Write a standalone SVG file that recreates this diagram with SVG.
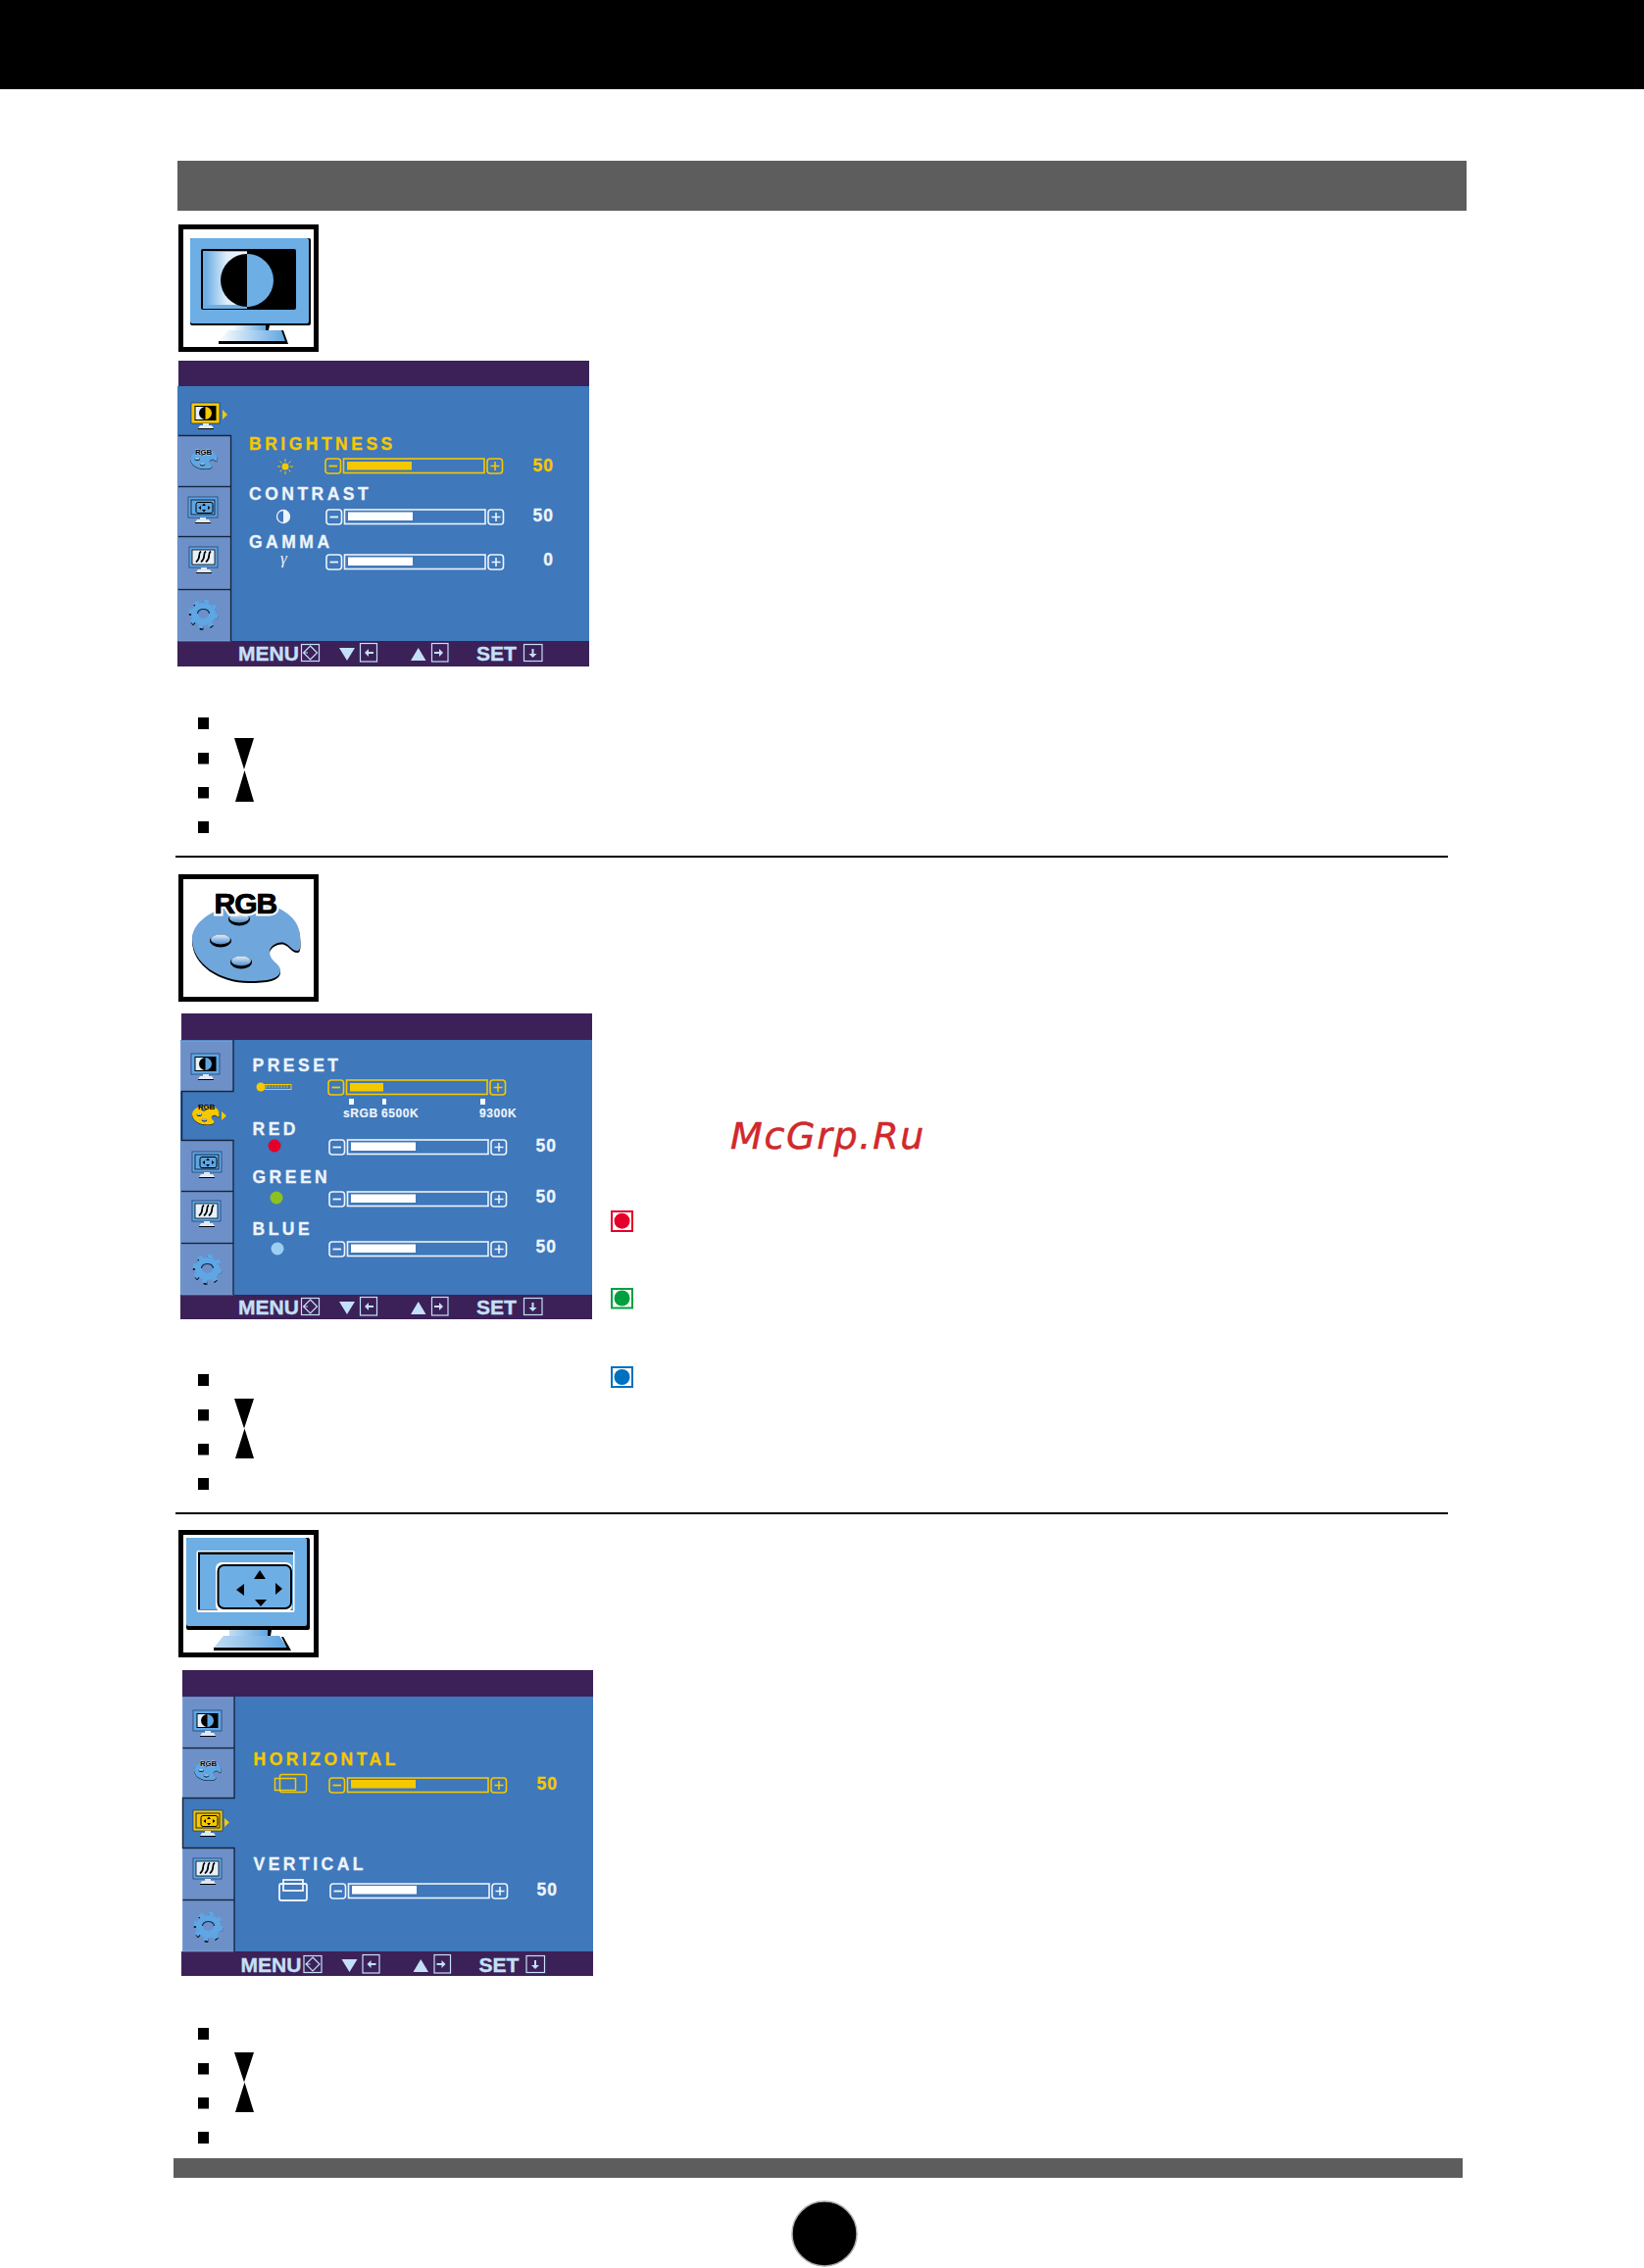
<svg xmlns="http://www.w3.org/2000/svg" width="1677" height="2314" viewBox="0 0 1677 2314">
<style>
text{font-family:"Liberation Sans",Arial,sans-serif;font-weight:700}
.lab{font-size:17.5px;letter-spacing:3.5px;stroke:currentColor;stroke-width:.3px}
.val{font-size:17.5px;letter-spacing:1px;text-anchor:end;stroke:currentColor;stroke-width:.3px}
.w{fill:#eef4fb;color:#eef4fb}
.y{fill:#f5c800;color:#f5c800}
.ft{font-size:21px;fill:#c4e0f8;stroke:#c4e0f8;stroke-width:.35px}
.sm{font-size:12px;letter-spacing:.6px;fill:#eef4fb;stroke:#eef4fb;stroke-width:.15px}
.purple{fill:#3c2158}
.body{fill:#3f78bb}
.cell{fill:#6d90c9;stroke:#8fb0dc;stroke-width:.6}
.sep{stroke:#14243f;stroke-width:1.4;fill:none}
.box{fill:#fff;stroke:#000;stroke-width:5}
.ico{color:#5fa6e4}
.sel{color:#f5c800}
.mrk{fill:#000}
.pt{font-size:8px;fill:#000;stroke:#fff;stroke-width:.5;paint-order:stroke;letter-spacing:-.3px}
</style>
<defs>
<linearGradient id="gScreen" x1="0" y1="0" x2="1" y2="0"><stop offset="0" stop-color="#6daee4"/><stop offset=".5" stop-color="#dcedfb"/><stop offset="1" stop-color="#f4f9fe"/></linearGradient>
<linearGradient id="gBase" x1="0" y1="0" x2="1" y2="0"><stop offset="0" stop-color="#fff"/><stop offset="1" stop-color="#5ba3e0"/></linearGradient>
<linearGradient id="gBase3" x1="0" y1="0" x2="1" y2="0"><stop offset="0" stop-color="#c3dcf4"/><stop offset="1" stop-color="#5ba3e0"/></linearGradient>
<linearGradient id="gHole" x1="0" y1="0" x2="0" y2="1"><stop offset="0" stop-color="#e4f0fb"/><stop offset="1" stop-color="#4f8ccb"/></linearGradient>
<g id="slider" fill="none" stroke="currentColor" stroke-width="1.600">
<rect x="1" y="1" width="15.500" height="15" rx="3"/><path d="M4.500 8.500h8.500" stroke-width="1.800"/>
<rect x="19.500" y="1" width="143.500" height="14.500"/>
<rect x="166" y="1" width="15.500" height="15" rx="3"/><path d="M169.500 8.500h9M174 4v9"/>
</g>
<g id="mC"><rect x="0" y="0" width="29" height="21" fill="currentColor" stroke="#1b3560" stroke-width=".7"/><rect x="3.500" y="3" width="22" height="15" fill="#000"/><rect x="4.500" y="4" width="9" height="13" fill="#e6f1fb"/><path d="M14.500 4a6.500 6.500 0 0 0 0 13z" fill="#000"/><path d="M14.500 4a6.500 6.500 0 0 1 0 13z" fill="currentColor"/><rect x="12" y="21" width="6" height="2.500" fill="#dfe9f4"/><path d="M7 26l2-3h12l2 3z" fill="#dfe9f4"/><path d="M7 26.500h16" stroke="#000"/></g>
<g id="mP"><rect x="0" y="0" width="30" height="21" fill="currentColor" stroke="#1b3560" stroke-width=".7"/><rect x="3" y="3" width="24" height="15" fill="currentColor" stroke="#14243f" stroke-width="1"/><rect x="8" y="5.500" width="17" height="11" rx="2" fill="currentColor" stroke="#000" stroke-width="1"/><path d="M16 6.500l2 2.500h-4zM16 15.500l2-2.500h-4zM10.500 11l2.500-2v4zM22.500 11l-2.500-2v4z" fill="#000"/><rect x="12" y="21" width="6" height="2.500" fill="#dfe9f4"/><path d="M7 26l2-3h12l2 3z" fill="#dfe9f4"/><path d="M7 26.500h16" stroke="#000"/></g>
<g id="mH"><rect x="0" y="0" width="29" height="21" fill="currentColor" stroke="#1b3560" stroke-width=".7"/><rect x="3" y="3" width="23" height="15" fill="#e6f1fb" stroke="#000" stroke-width=".8"/><path d="M12 4.500c-4 3 1 5-5 11M17 4.500c-4 3 1 5-5 11M22 4.500c-4 3 1 5-5 11" fill="none" stroke="#000" stroke-width="1.700"/><rect x="12" y="21" width="6" height="2.500" fill="#dfe9f4"/><path d="M7 26l2-3h12l2 3z" fill="#dfe9f4"/><path d="M7 26.500h16" stroke="#000"/></g>
<g id="gear" fill="none"><circle cx="15.500" cy="15" r="13" stroke="#000" stroke-width="3.500" stroke-dasharray="3.500 6.700"/><circle cx="15.500" cy="13.500" r="13" stroke="currentColor" stroke-width="4" stroke-dasharray="5 5.200"/><ellipse cx="15.500" cy="13.500" rx="9" ry="8" stroke="currentColor" stroke-width="7"/><path d="M9.500 13a6 4.500 0 0 1 12 0" stroke="#14243f" stroke-width="1.200"/></g>
<path id="palP" d="M36 10C16 16 0 28 0 43C0 68 28 86 58 86C76 86 90 84 90 75C90 68 79 66 79 56C79 50 88 45 94 47C100 49 102 56 108 55C112 54 110 42 110 38C108 22 95 15 85 10Z"/>
<g id="pal"><use href="#palP" fill="#000" transform="translate(0 2)"/><use href="#palP" fill="currentColor"/><g fill="#000"><ellipse cx="29" cy="45" rx="11" ry="6.500"/><ellipse cx="50" cy="67" rx="11" ry="6.500"/><ellipse cx="48" cy="23" rx="11" ry="6.500"/></g><g fill="url(#gHole)"><ellipse cx="29" cy="43.500" rx="10" ry="5"/><ellipse cx="50" cy="65.500" rx="10" ry="5"/><ellipse cx="48" cy="21.500" rx="10" ry="5"/></g></g>
<g id="footmarks"><g fill="none" stroke="#c4e0f8" stroke-width="1.200"><rect x="307.500" y="657.500" width="18" height="17"/><path d="M316.500 659l7 7-7 7-7-7zM314 666h-5"/><rect x="367.500" y="656.500" width="17" height="18.500"/><rect x="440.500" y="656.500" width="16.500" height="18.500"/><rect x="534.500" y="657.500" width="18.500" height="17"/></g><g fill="#c4e0f8"><path d="M346 661h16l-8 13zM419 674h15.500l-7.750-13z"/><path d="M372 666l4-4v3h5v2h-5v3zM452 666l-4-4v3h-5v2h5v3zM543.500 671l-4-4h3v-5h2v5h3z"/></g></g>
<g id="bullets"><rect class="mrk" x="202" y="732" width="11" height="12"/><rect class="mrk" x="202" y="768" width="11" height="11.500"/><rect class="mrk" x="202" y="803" width="11" height="11.500"/><rect class="mrk" x="202" y="838" width="11" height="12"/></g>
</defs>
<rect width="1677" height="2314" fill="#fff"/>

<g id="page-frame">
<rect x="0" y="0" width="1677" height="91" fill="#000"/>
<rect x="181" y="164" width="1315" height="51" fill="#5d5d5d"/>
<rect x="177" y="2202" width="1315" height="20" fill="#5d5d5d"/>
<circle cx="841" cy="2279" r="33" fill="#000" stroke="#aaa" stroke-width="1.500"/>
<rect x="179" y="873" width="1298" height="2" fill="#000"/>
<rect x="179" y="1543" width="1298" height="2" fill="#000"/>
</g>

<g id="icon-brightness">
<rect class="box" x="184.500" y="231.500" width="138" height="125"/>
<rect x="194" y="243" width="123" height="89" rx="2" fill="#000"/>
<rect x="194" y="243" width="121" height="87" rx="2" fill="#6daee4"/>
<rect x="205" y="254" width="97" height="62" rx="2" fill="#000"/>
<rect x="207" y="256" width="45" height="59" fill="#6daee4"/>
<rect x="210" y="257" width="42" height="54" fill="url(#gScreen)"/>
<path d="M252 259a27 27 0 0 0 0 54z" fill="#000"/><path d="M252 259a27 27 0 0 1 0 54z" fill="#6daee4"/>
<path d="M237 332h35v5h-35z" fill="url(#gBase)"/><path d="M271 332h4l-1 5h-3z" fill="#000"/>
<path d="M223 348l10-11h55l5 11z" fill="url(#gBase)"/><path d="M223 348h70l1 3h-71zM287 337h2l5 14h-2z" fill="#000"/>
</g>

<g id="osd-brightness">
<rect class="purple" x="182" y="368" width="419" height="26"/>
<rect class="body" x="181" y="394" width="420" height="260"/>
<rect class="purple" x="181" y="654" width="420" height="26"/>
<rect class="cell" x="182" y="445" width="53" height="51"/><rect class="cell" x="182" y="497" width="53" height="50"/><rect class="cell" x="182" y="548" width="53" height="52.500"/><rect class="cell" x="182" y="602" width="53" height="52"/>
<path class="sep" d="M182 444.500h53.500V654M182 496.500h53M182 547.500h53M182 601.500h53"/>
<use href="#mC" class="sel" x="195" y="411"/><path d="M227 418l5 5-5 5z" fill="#f5c800"/>
<use href="#pal" class="ico" transform="translate(194 457) scale(.25)"/><text class="pt" x="199" y="464">RGB</text>
<use href="#mP" class="ico" x="192" y="507"/><use href="#mH" class="ico" x="193" y="558"/><use href="#gear" class="ico" x="192" y="613"/>
<text class="lab y" x="254" y="459">BRIGHTNESS</text><text class="lab w" x="254" y="510">CONTRAST</text><text class="lab w" x="254" y="559">GAMMA</text>
<g stroke="#f5c800" stroke-width="1"><path d="M291 468v3M291 481v3M283 476h3M296 476h3M285.500 470.500l2 2M294.500 479.500l2 2M296.500 470.500l-2 2M287.500 479.500l-2 2"/></g><circle cx="291" cy="476" r="3.500" fill="#f5c800"/>
<circle cx="289" cy="527" r="6.500" fill="#3f78bb" stroke="#eef4fb" stroke-width="1.300"/><path d="M289 520.500a6.500 6.500 0 0 1 0 13z" fill="#eef4fb"/>
<text x="286" y="575" style="font-family:'Liberation Serif',serif;font-style:italic;font-weight:400;font-size:17px" fill="#eef4fb">γ</text>
<use href="#slider" class="y" x="331" y="467"/><rect x="354" y="471" width="66" height="8.500" fill="#f5c800"/>
<use href="#slider" class="w" x="332" y="519"/><rect x="355" y="522.500" width="66" height="8.500" fill="#fff"/>
<use href="#slider" class="w" x="332" y="565"/><rect x="355" y="568.500" width="66" height="8.500" fill="#fff"/>
<text class="val y" x="565" y="481">50</text><text class="val w" x="565" y="532">50</text><text class="val w" x="565" y="577">0</text>
<use href="#footmarks"/>
<text class="ft" x="243" y="674">MENU</text><text class="ft" x="486" y="674">SET</text>
</g>

<g id="steps-1"><use href="#bullets"/><path class="mrk" d="M239 753h20l-10 32zM240 818h19l-9.500-32z"/></g>

<g id="icon-rgb">
<rect class="box" x="184.500" y="894.500" width="138" height="125"/>
<use href="#pal" style="color:#6fa6dc" transform="translate(196 915)"/>
<text x="218.500" y="932" style="font-size:30px;letter-spacing:-1px;stroke:#fff;stroke-width:5px;paint-order:stroke" fill="#000">RGB</text>
<text x="218.500" y="932" style="font-size:30px;letter-spacing:-1px;stroke:#000;stroke-width:.7px" fill="#000">RGB</text>
</g>

<g id="osd-rgb">
<rect class="purple" x="185" y="1034" width="419" height="27"/>
<rect class="body" x="184" y="1061" width="420" height="260"/>
<rect class="purple" x="184" y="1321" width="420" height="25"/>
<rect class="cell" x="184.500" y="1062" width="53" height="51"/><rect class="cell" x="185" y="1164" width="53" height="51"/><rect class="cell" x="185" y="1216" width="53" height="52"/><rect class="cell" x="185" y="1269" width="53" height="52"/>
<path class="sep" d="M238 1061V1113.500H185.500V1163.500H238V1321M185 1215.500h53M185 1268.500h53"/>
<use href="#mC" class="ico" x="195" y="1075"/>
<use href="#pal" class="sel" transform="translate(196 1126) scale(.25)"/><text class="pt" x="202" y="1132" style="stroke:none">RGB</text><path d="M226 1134l5 4.500-5 4.500z" fill="#f5c800"/>
<use href="#mP" class="ico" x="196" y="1175"/><use href="#mH" class="ico" x="196" y="1225"/><use href="#gear" class="ico" x="196" y="1281"/>
<text class="lab w" x="257.500" y="1093">PRESET</text><text class="lab w" x="257.500" y="1158">RED</text><text class="lab w" x="257.500" y="1207">GREEN</text><text class="lab w" x="257.500" y="1260">BLUE</text>
<circle cx="266" cy="1109" r="4.500" fill="#f5c800"/><rect x="270" y="1106.500" width="27" height="5" fill="#3f78bb" stroke="#f5c800"/><path d="M272 1107v3M275 1107v3M278 1107v3M281 1107v3M284 1107v3M287 1107v3M290 1107v3M293 1107v3" stroke="#f5c800" stroke-width=".8"/>
<circle cx="280" cy="1169" r="6.500" fill="#e4002b"/><circle cx="282" cy="1222" r="6.500" fill="#8cc21f"/><circle cx="283" cy="1274" r="6.500" fill="#9bd0f3"/>
<use href="#slider" class="y" x="334" y="1101"/><rect x="357" y="1105" width="34" height="8.500" fill="#f5c800"/>
<rect x="356" y="1121" width="5" height="6" fill="#fff"/><rect x="390" y="1121" width="4" height="6" fill="#fff"/><rect x="490" y="1121" width="5" height="6" fill="#fff"/>
<text class="sm" x="350" y="1140">sRGB</text><text class="sm" x="389" y="1140">6500K</text><text class="sm" x="489" y="1140">9300K</text>
<use href="#slider" class="w" x="335" y="1162"/><rect x="358" y="1165.500" width="66" height="8.500" fill="#fff"/>
<use href="#slider" class="w" x="335" y="1215"/><rect x="358" y="1218.500" width="66" height="8.500" fill="#fff"/>
<use href="#slider" class="w" x="335" y="1266"/><rect x="358" y="1269.500" width="66" height="8.500" fill="#fff"/>
<text class="val w" x="568" y="1175">50</text><text class="val w" x="568" y="1227">50</text><text class="val w" x="568" y="1278">50</text>
<use href="#footmarks" y="667"/>
<text class="ft" x="243" y="1341">MENU</text><text class="ft" x="486" y="1341">SET</text>
</g>

<g id="watermark"><text x="745" y="1172" style="font-family:'DejaVu Sans',sans-serif;font-style:oblique;font-weight:400;font-size:38px;letter-spacing:1.700px;stroke:#b82a2a;stroke-width:.5px" fill="#d9262a">McGrp.Ru</text></g>

<g id="swatches">
<rect x="624" y="1236" width="21" height="20" fill="#fff" stroke="#e4002b" stroke-width="2"/><circle cx="634.500" cy="1245.700" r="8" fill="#e4002b"/>
<rect x="624" y="1315" width="21" height="19.500" fill="#fff" stroke="#00a040" stroke-width="2"/><circle cx="634.500" cy="1324.500" r="8" fill="#00a040"/>
<rect x="624" y="1395" width="21" height="20" fill="#fff" stroke="#0070c0" stroke-width="2"/><circle cx="634.500" cy="1405" r="8" fill="#0070c0"/>
</g>

<g id="steps-2"><use href="#bullets" y="670"/><path class="mrk" d="M239 1427h20l-10 30.500zM240 1488h19l-9.500-30.500z"/></g>

<g id="icon-position">
<rect class="box" x="184.500" y="1563.500" width="138" height="125"/>
<rect x="190" y="1569" width="126" height="94" rx="2" fill="#000"/>
<rect x="190" y="1569" width="123" height="90" rx="2" fill="#6daee4"/>
<rect x="200.500" y="1582" width="100" height="63" rx="2" fill="#fff"/>
<rect x="202" y="1583.500" width="97" height="59" fill="#000"/>
<rect x="204" y="1586" width="95" height="56" fill="#6daee4"/>
<rect x="220" y="1594" width="78" height="50" rx="6" fill="#fff"/>
<rect x="222.500" y="1597" width="74.500" height="44" rx="6" fill="#6daee4" stroke="#000" stroke-width="2"/>
<path d="M265 1602l6 9h-12zM266 1639l-6-7h12zM241 1622l8-6v12zM288 1621l-7-6v12z" fill="#000"/>
<path d="M234 1663h41v6h-41z" fill="url(#gBase3)"/><path d="M273 1663h4l-1 6h-3z" fill="#000"/>
<path d="M218 1681l10-12h57l8 12z" fill="url(#gBase3)"/><path d="M218 1681h76l3 3h-79zM287 1670h2l8 14h-3z" fill="#000"/>
</g>

<g id="osd-position">
<rect class="purple" x="186" y="1704" width="419" height="27"/>
<rect class="body" x="186" y="1731" width="419" height="260"/>
<rect class="purple" x="185" y="1991" width="420" height="25"/>
<rect class="cell" x="186.500" y="1732" width="52" height="51"/><rect class="cell" x="186.500" y="1784" width="52" height="50"/><rect class="cell" x="186.500" y="1886" width="52" height="52"/><rect class="cell" x="186.500" y="1939" width="52" height="52"/>
<path class="sep" d="M239 1731V1834.500H186.500V1885.500H239V1991M186.500 1783.500h52.500M186.500 1938.500h52.500"/>
<use href="#mC" class="ico" x="197" y="1745"/>
<use href="#pal" class="ico" transform="translate(198 1795) scale(.25)"/><text class="pt" x="204" y="1802">RGB</text>
<use href="#mP" class="sel" x="197" y="1847"/><path d="M229 1855l5 4.500-5 4.500z" fill="#f5c800"/>
<use href="#mH" class="ico" x="197" y="1896"/><use href="#gear" class="ico" x="197" y="1952"/>
<text class="lab y" x="258.500" y="1801">HORIZONTAL</text><text class="lab w" x="258.500" y="1908">VERTICAL</text>
<g fill="none" stroke="#f5c800" stroke-width="1.500"><rect x="280.500" y="1814.500" width="21" height="12"/><rect x="285.500" y="1810.500" width="27" height="18" rx="2"/></g>
<g fill="none" stroke="#eef4fb" stroke-width="1.800"><rect x="285" y="1922" width="28" height="17" rx="2"/><rect x="289" y="1918" width="20" height="11"/></g>
<use href="#slider" class="y" x="335" y="1813"/><rect x="358" y="1816" width="66" height="8.500" fill="#f5c800"/>
<use href="#slider" class="w" x="336" y="1921"/><rect x="359" y="1924" width="66" height="8.500" fill="#fff"/>
<text class="val y" x="569" y="1826">50</text><text class="val w" x="569" y="1934">50</text>
<use href="#footmarks" x="2.500" y="1338"/>
<text class="ft" x="245.500" y="2012">MENU</text><text class="ft" x="488.500" y="2012">SET</text>
</g>

<g id="steps-3"><use href="#bullets" y="1337"/><path class="mrk" d="M239 2094h20l-10 30.500zM240 2155h19l-9.500-30.500z"/></g>
</svg>
